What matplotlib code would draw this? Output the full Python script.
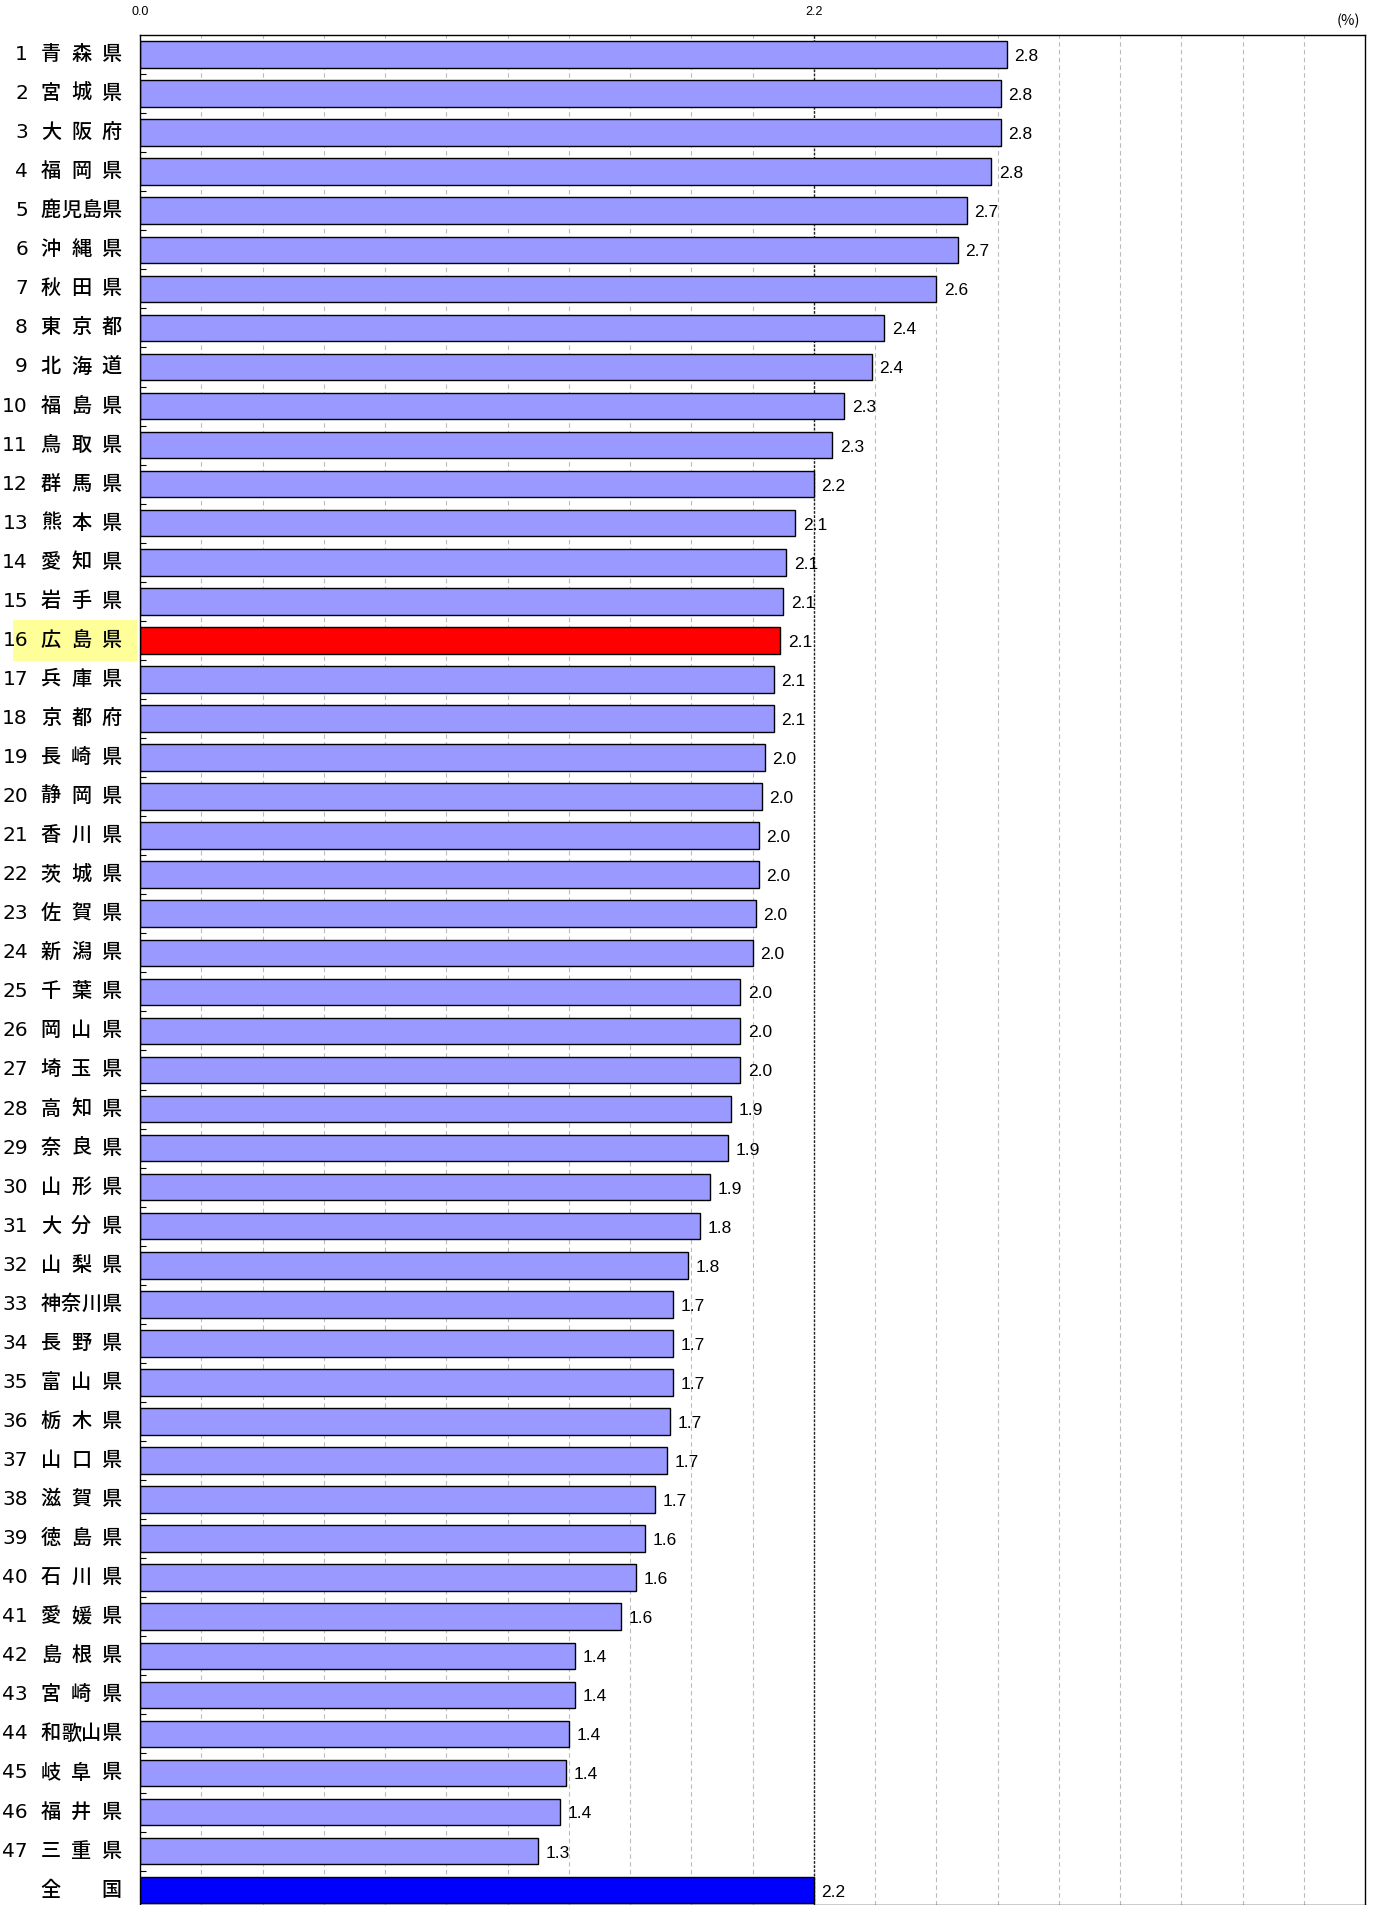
import numpy as np
import matplotlib.pyplot as plt
import matplotlib.transforms as mtransforms
from matplotlib.patches import Rectangle

plt.rcParams['font.family'] = ['Noto Sans CJK JP', 'DejaVu Sans']

ranks = [str(i) for i in range(1, 48)] + ['']
names = ['青森県', '宮城県', '大阪府', '福岡県', '鹿児島県', '沖縄県', '秋田県', '東京都',
         '北海道', '福島県', '鳥取県', '群馬県', '熊本県', '愛知県', '岩手県', '広島県',
         '兵庫県', '京都府', '長崎県', '静岡県', '香川県', '茨城県', '佐賀県', '新潟県',
         '千葉県', '岡山県', '埼玉県', '高知県', '奈良県', '山形県', '大分県', '山梨県',
         '神奈川県', '長野県', '富山県', '栃木県', '山口県', '滋賀県', '徳島県', '石川県',
         '愛媛県', '島根県', '宮崎県', '和歌山県', '岐阜県', '福井県', '三重県', '全国']
values = [2.83, 2.81, 2.81, 2.78, 2.70, 2.67, 2.60, 2.43, 2.39, 2.30, 2.26, 2.20,
          2.14, 2.11, 2.10, 2.09, 2.07, 2.07, 2.04, 2.03, 2.02, 2.02, 2.01, 2.00,
          1.96, 1.96, 1.96, 1.93, 1.92, 1.86, 1.83, 1.79, 1.74, 1.74, 1.74, 1.73,
          1.72, 1.68, 1.65, 1.62, 1.57, 1.42, 1.42, 1.40, 1.39, 1.37, 1.30, 2.2]
national = 2.2
highlight = '広島県'

W, H = 1380, 1905
fig = plt.figure(figsize=(W / 100, H / 100), dpi=100)
ax = fig.add_axes([140 / W, 0, 1225 / W, (H - 35) / H])

n = len(names)
y = np.arange(n)
colors = []
for nm in names:
    if nm == highlight:
        colors.append('#FF0000')
    elif nm == '全国':
        colors.append('#0000FF')
    else:
        colors.append('#9999FF')

# grid lines every 0.2, national average line solid-ish
for gx in np.arange(0.2, 4.0, 0.2):
    if abs(gx - national) < 1e-6:
        continue
    ax.axvline(gx, color='#BBBBBB', lw=0.8, ls=(0, (4, 3)), zorder=0)
ax.axvline(national, color='#222222', lw=1.0, ls=(0, (2, 1)), zorder=0)

ax.barh(y, values, height=0.68, color=colors, edgecolor='black', lw=1.0, zorder=2)

for yi, v in zip(y, values):
    ax.text(v + 0.025, yi + 0.05, f'{v:.1f}', va='center', ha='left',
            fontsize=12.5, family='Liberation Sans', zorder=3)

ax.set_xlim(0, 4.0)
ax.set_ylim(n - 0.62, -0.5)

ax.xaxis.tick_top()
ax.set_xticks([0, national])
ax.set_xticklabels(['0.0', '2.2'], fontsize=9, family='Liberation Sans')
ax.tick_params(axis='x', length=0, pad=12)
ax.set_yticks([])
ax.set_yticks(np.arange(0.5, n - 1, 1), minor=True)
ax.tick_params(axis='y', which='minor', direction='in', length=4, width=0.8, labelleft=False)
for s in ax.spines.values():
    s.set_color('black')
    s.set_linewidth(1.0)

fig.text(1360 / W, 1 - 21 / H, '(%)', ha='right', va='center', fontsize=10.5)

trans = mtransforms.blended_transform_factory(fig.transFigure, ax.transData)
hi = names.index(highlight)
ax.add_patch(Rectangle((13 / W, hi - 0.52), 124 / W, 1.04, transform=trans,
                       facecolor='#FFFF99', edgecolor='none', clip_on=False, zorder=0))

cw = 20.25
for yi, rk, nm in zip(y, ranks, names):
    if rk:
        ax.text(28 / W, yi, rk, transform=trans, ha='right', va='center',
                fontsize=14.5, family='Liberation Sans Narrow', clip_on=False)
    k = len(nm)
    x0, x1 = 40.7 + cw / 2, 121.7 - cw / 2
    for j, ch in enumerate(nm):
        cx = x0 + (x1 - x0) * j / (k - 1)
        ax.text(cx / W, yi, ch, transform=trans, ha='center', va='center',
                fontsize=14.5, fontweight='medium', clip_on=False)

fig.savefig('out.png', dpi=100)
